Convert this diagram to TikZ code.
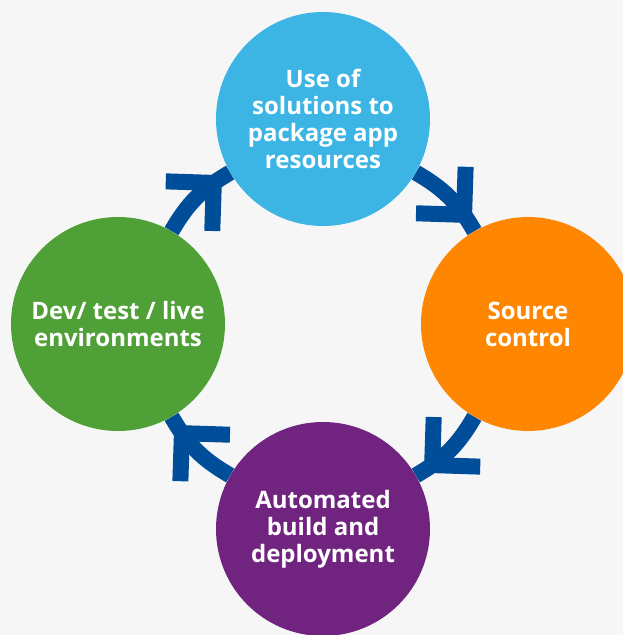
\documentclass[tikz,border=0pt]{standalone}
\usepackage{fontspec}
\setmainfont{Open Sans}
\usetikzlibrary{calc, decorations.markings, positioning}

\definecolor{bgray}{RGB}{246,246,246}
\definecolor{cblue}{RGB}{60,180,228}
\definecolor{corange}{RGB}{255,134,0}
\definecolor{cgreen}{RGB}{80,160,56}
\definecolor{cpurple}{RGB}{112,36,128}
\definecolor{darrow}{RGB}{0,77,153}

\pgfdeclarelayer{bg}
\pgfsetlayers{bg,main}

\begin{document}
\begin{tikzpicture}[x=1pt,y=1pt,
  stage/.style={circle, minimum size=214pt, inner sep=0pt, text=white, align=center,
    font=\bfseries\fontsize{24}{27}\selectfont},
  cycle/.style={draw=darrow, line width=16pt, postaction={decorate},
    decoration={markings, mark=at position 0.77 with
      {\draw[darrow, line width=16pt, line join=miter, rotate=8] (-34,34) -- (0,0) -- (-34,-34);}}}]
\useasboundingbox (-323,-311) rectangle (300,324);

\node[stage, fill=cblue] (res) at (0,205) {Use of\\solutions to\\package app\\resources};
\node[stage, fill=corange] (src) at (205,0) {Source\\control};
\node[stage, fill=cpurple] (build) at (0,-205) {Automated\\build and\\deployment};
\node[stage, fill=cgreen] (env) at (-205,0) {Dev/ test / live\\environments};

% arrows go under the circles
\begin{pgfonlayer}{bg}
\fill[bgray] (-323,-311) rectangle (300,324);
\foreach \a/\b/\o/\i in {res/src/-30/120, src/build/-120/30, build/env/150/-60, env/res/60/-150}
  \draw[cycle] (\a) to[out=\o, in=\i] (\b);
\end{pgfonlayer}
\end{tikzpicture}
\end{document}
